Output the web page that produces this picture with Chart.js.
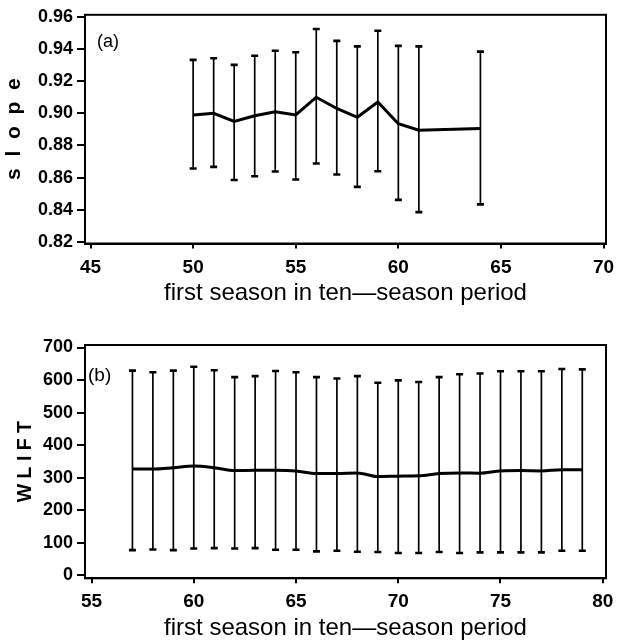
<!DOCTYPE html>
<html>
<head>
<meta charset="utf-8">
<script src="https://cdn.jsdelivr.net/npm/chart.js@4.4.1/dist/chart.umd.min.js"></script>
<style>
  html, body { margin: 0; padding: 0; background: #fff; }
  canvas { position: absolute; left: 0; }
  #chartA { top: 0; }
  #chartB { top: 320px; }
</style>
</head>
<body>
<canvas id="chartA" width="623" height="320"></canvas>
<canvas id="chartB" width="623" height="320"></canvas>
<script>
// panel (a): slope by first season of a ten-season period
const seasonsA = [50, 51, 52, 53, 54, 55, 56, 57, 58, 59, 60, 61, 64];
const slopeMean = [0.899, 0.900, 0.895, 0.8985, 0.901, 0.899, 0.910, 0.903, 0.8975, 0.907, 0.8935, 0.8895, 0.8905];
const slopeLow  = [0.8657, 0.8667, 0.8586, 0.8609, 0.8638, 0.8589, 0.8688, 0.862, 0.8543, 0.864, 0.8462, 0.8386, 0.8434];
const slopeHigh = [0.9332, 0.9342, 0.9301, 0.9358, 0.9389, 0.9379, 0.9524, 0.945, 0.9416, 0.9513, 0.9419, 0.9416, 0.9383];
const slopeTicks = [0.82, 0.84, 0.86, 0.88, 0.90, 0.92, 0.94, 0.96];
const seasonTicksA = [45, 50, 55, 60, 65, 70];

// panel (b): WLIFT
const seasonsB = [57, 58, 59, 60, 61, 62, 63, 64, 65, 66, 67, 68, 69, 70, 71, 72, 73, 74, 75, 76, 77, 78, 79];
const wliftMean = [327, 327, 331, 336, 331, 322, 323, 323, 321, 313, 313, 315, 304, 305, 306, 313, 315, 314, 321, 322, 321, 325, 325];
const wliftLow  = [78, 80, 78, 83, 84, 83, 84, 79, 79, 74, 76, 73, 72, 69, 69, 72, 69, 71, 71, 71, 71, 76, 76];
const wliftHigh = [629, 624, 629, 641, 630, 609, 612, 628, 624, 609, 605, 612, 592, 599, 594, 609, 618, 620, 627, 627, 627, 634, 633];
const wliftTicks = [0, 100, 200, 300, 400, 500, 600, 700];
const seasonTicksB = [55, 60, 65, 70, 75, 80];

const FONT = "'Liberation Sans', Arial, Helvetica, sans-serif";
const xTitle = 'first season in ten\u2014season period';

// vertical bars with end caps, drawn through the chart scales
const errorBars = {
  id: 'errorBars',
  afterDatasetsDraw(chart, args, opts) {
    const { ctx, scales: { x, y } } = chart;
    ctx.save();
    ctx.strokeStyle = '#000';
    opts.xs.forEach((s, i) => {
      const px = x.getPixelForValue(s);
      const yLo = y.getPixelForValue(opts.low[i]);
      const yHi = y.getPixelForValue(opts.high[i]);
      ctx.lineWidth = 1.7;
      ctx.beginPath();
      ctx.moveTo(px, yLo);
      ctx.lineTo(px, yHi);
      ctx.stroke();
      ctx.lineWidth = 2.6;
      ctx.beginPath();
      ctx.moveTo(px - 3.5, yLo); ctx.lineTo(px + 3.5, yLo);
      ctx.moveTo(px - 3.5, yHi); ctx.lineTo(px + 3.5, yHi);
      ctx.stroke();
    });
    ctx.restore();
  }
};

// box round the plot and the panel letter
const frame = {
  id: 'frame',
  afterDraw(chart, args, opts) {
    const { ctx, chartArea: { left, top, right, bottom } } = chart;
    ctx.save();
    ctx.strokeStyle = '#000';
    ctx.lineWidth = 2;
    ctx.strokeRect(left, top, right - left, bottom - top);
    ctx.fillStyle = '#000';
    ctx.font = opts.font;
    ctx.textBaseline = 'top';
    ctx.fillText(opts.label, left + opts.dx, top + opts.dy);
    ctx.restore();
  }
};

function makeChart(id, cfg) {
  return new Chart(document.getElementById(id), {
    type: 'line',
    data: {
      datasets: [{
        data: cfg.xs.map((s, i) => ({ x: s, y: cfg.mean[i] })),
        borderColor: '#000',
        borderWidth: 3,
        pointRadius: 0,
        fill: false,
        cubicInterpolationMode: cfg.smooth ? 'monotone' : 'default',
        tension: 0
      }]
    },
    options: {
      responsive: false,
      animation: false,
      layout: { padding: { top: cfg.padTop, right: 17, left: 0, bottom: 0 } },
      plugins: {
        legend: { display: false },
        tooltip: { enabled: false },
        errorBars: { xs: cfg.xs, low: cfg.low, high: cfg.high },
        frame: { label: cfg.label, font: cfg.labelFont, dx: cfg.labelDx, dy: cfg.labelDy }
      },
      scales: {
        x: {
          type: 'linear',
          min: cfg.xMin, max: cfg.xMax,
          afterBuildTicks: s => { s.ticks = cfg.xTicks.map(v => ({ value: v })); },
          afterFit: s => { s.height = cfg.xHeight; },
          grid: { drawOnChartArea: false, drawTicks: true, tickLength: 5, color: '#000', lineWidth: 2 },
          border: { color: '#000', width: 2 },
          ticks: { color: '#000', padding: cfg.xTickPad, maxRotation: 0, font: { family: FONT, size: 19, weight: 'bold' } },
          title: { display: true, text: xTitle, color: '#000', font: { family: FONT, size: 24, lineHeight: 1 }, padding: { top: 0, bottom: cfg.titlePad } }
        },
        y: {
          min: cfg.yMin, max: cfg.yMax,
          afterBuildTicks: s => { s.ticks = cfg.yTicks.map(v => ({ value: v })); },
          afterFit: s => { s.width = 85; },
          grid: { drawOnChartArea: false, drawTicks: true, tickLength: 8, color: '#000', lineWidth: 2 },
          border: { color: '#000', width: 2 },
          ticks: { color: '#000', padding: 4, font: { family: FONT, size: 18, weight: 'bold' },
                   callback: v => cfg.yFmt(v) },
          title: { display: true, text: cfg.yTitle, color: '#000', font: { family: FONT, size: cfg.yTitleSize, weight: 'bold' }, padding: { top: cfg.yTitlePad, bottom: 0 } }
        }
      }
    },
    plugins: [errorBars, frame]
  });
}

makeChart('chartA', {
  xs: seasonsA, mean: slopeMean, low: slopeLow, high: slopeHigh, smooth: false,
  xMin: 44.73, xMax: 70.12, xTicks: seasonTicksA,
  yMin: 0.8191, yMax: 0.9612, yTicks: slopeTicks, yFmt: v => v.toFixed(2),
  yTitle: 's  l  o  p  e', yTitleSize: 21, yTitlePad: 2,
  padTop: 13, xHeight: 76.5, xTickPad: 8, titlePad: 15,
  label: '(a)', labelFont: '18px ' + FONT, labelDx: 12, labelDy: 18
});

makeChart('chartB', {
  xs: seasonsB, mean: wliftMean, low: wliftLow, high: wliftHigh, smooth: true,
  xMin: 54.68, xMax: 80.16, xTicks: seasonTicksB,
  yMin: -8.6, yMax: 707.7, yTicks: wliftTicks, yFmt: v => String(v),
  yTitle: 'W L I F T', yTitleSize: 19.5, yTitlePad: 14,
  padTop: 25, xHeight: 61.7, xTickPad: 7, titlePad: 0,
  label: '(b)', labelFont: '19px ' + FONT, labelDx: 3, labelDy: 21
});
</script>
</body>
</html>
